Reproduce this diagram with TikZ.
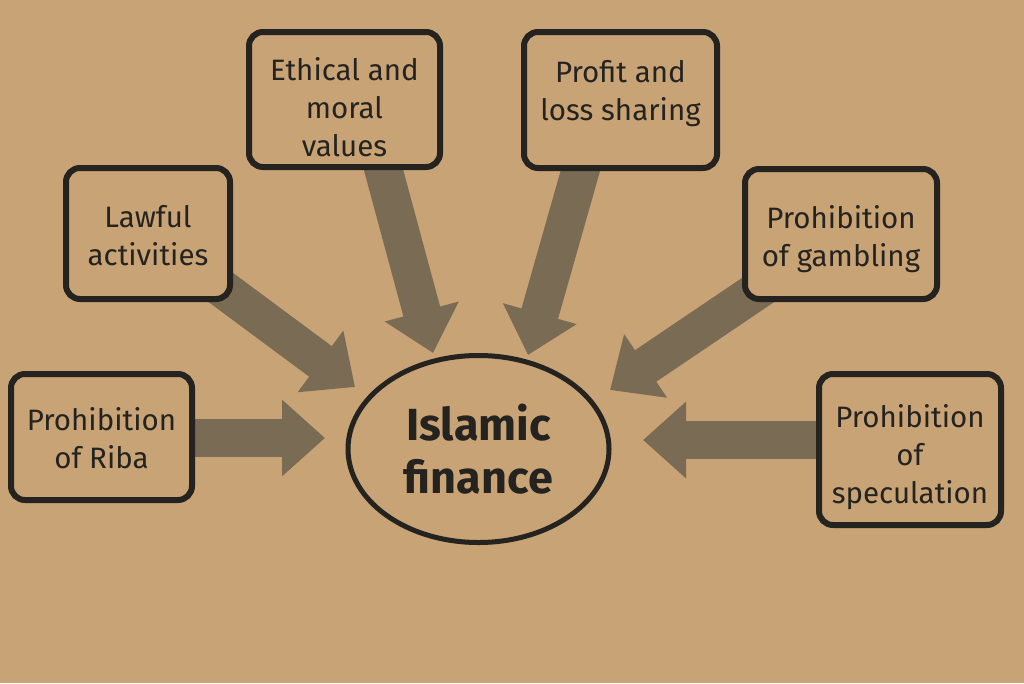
\documentclass[tikz,border=0pt]{standalone}
\usepackage{fontspec}
\setmainfont{Fira Sans}
\usetikzlibrary{arrows.meta,shapes.geometric}
\pgfdeclarelayer{back}
\pgfdeclarelayer{mid}
\pgfsetlayers{back,mid,main}
\definecolor{card}{RGB}{200,163,118}
\definecolor{arrowc}{RGB}{122,107,84}
\definecolor{ink}{RGB}{36,35,31}
\tikzset{
  box/.style={draw=ink, line width=6pt, rounded corners=14pt, fill=card,
    inner sep=0pt},
  lbl/.style={text=ink, align=center, inner sep=0pt,
    font=\fontsize{29.5}{38}\selectfont},
  hub/.style={ellipse, draw=ink, line width=5pt, fill=card, text=ink,
    align=center, inner sep=0pt, minimum width=261pt, minimum height=187pt,
    font=\fontsize{45}{53}\selectfont\bfseries},
  bigarrow/.style={draw=arrowc, line width=38pt,
    -{Triangle[length=43pt,width=74pt]}}
}
\begin{document}
\begin{tikzpicture}[x=1pt,y=-1pt]
\begin{pgfonlayer}{back}
\fill[card] (0,0) rectangle (1024,683);
\end{pgfonlayer}
\useasboundingbox (0,0) rectangle (1024,683);

\node[hub] (hub) at (478.5,449) {Islamic\\finance};

\node[box, minimum width=181pt, minimum height=126pt] (riba) at (101.5,437) {};
\node[box, minimum width=164pt, minimum height=131pt] (lawful) at (148,233.5) {};
\node[box, minimum width=191pt, minimum height=135pt] (ethical) at (344.5,99.5) {};
\node[box, minimum width=193pt, minimum height=136pt] (profit) at (620.5,100) {};
\node[box, minimum width=192pt, minimum height=130pt] (gamb) at (841,234) {};
\node[box, minimum width=182pt, minimum height=151pt] (spec) at (910,449.5) {};

\node[lbl] (ribaT) at ([yshift=-1pt]riba.center) {Prohibition\\of Riba};
\node[lbl] (lawfulT) at ([yshift=-2pt]lawful.center) {Lawful\\activities};
\node[lbl] (ethicalT) at ([yshift=-8pt]ethical.center) {Ethical and\\moral\\values};
\node[lbl] (profitT) at ([yshift=6pt]profit.center) {Profit and\\loss sharing};
\node[lbl] (gambT) at ([yshift=-5pt]gamb.center) {Prohibition\\of gambling};
\node[lbl] (specT) at ([yshift=-8pt]spec.center) {Prohibition\\of\\speculation};

\coordinate (tRiba) at (325,438);
\coordinate (tLawful) at (355,387);
\coordinate (tEthical) at (433,353);
\coordinate (tProfit) at (528,355);
\coordinate (tGamb) at (610,390);
\coordinate (tSpec) at (643,440);

\begin{pgfonlayer}{mid}
\draw[bigarrow] (riba.center |- tRiba) -- (tRiba);
\draw[bigarrow] (lawful.center) -- (tLawful);
\draw[bigarrow] ([xshift=20pt]ethical.center) -- (tEthical);
\draw[bigarrow] ([xshift=-20pt]profit.center) -- (tProfit);
\draw[bigarrow] (gamb.center) -- (tGamb);
\draw[bigarrow] (spec.center |- tSpec) -- (tSpec);
\end{pgfonlayer}
\end{tikzpicture}
\end{document}
